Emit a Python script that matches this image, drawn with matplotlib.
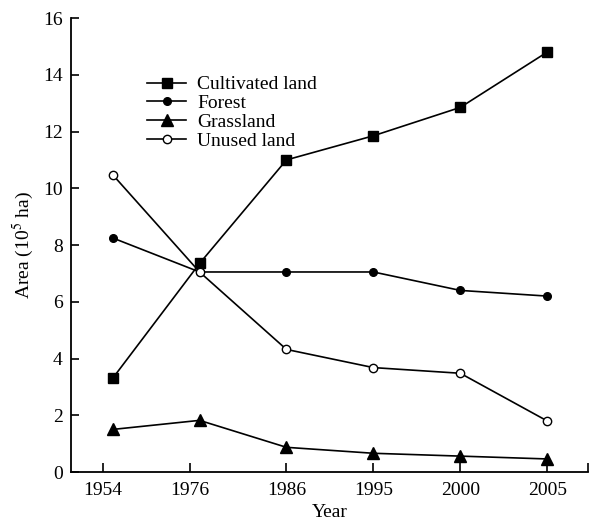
import matplotlib
matplotlib.use("Agg")
import matplotlib.pyplot as plt
import numpy as np

years = ["1954", "1976", "1986", "1995", "2000", "2005"]
cultivated = [3.3, 7.35, 11.0, 11.85, 12.85, 14.8]
forest = [8.25, 7.05, 7.05, 7.05, 6.4, 6.2]
grassland = [1.5, 1.82, 0.87, 0.66, 0.56, 0.46]
unused = [10.48, 7.05, 4.32, 3.68, 3.48, 1.8]
# tick positions (first two ticks sit slightly left of their points in the original)
tick_pos = [-0.11, 0.89, 2, 3, 4, 5]

plt.rcParams['font.family'] = ['Liberation Serif', 'DejaVu Serif']
plt.rcParams['mathtext.fontset'] = 'stix'

fig = plt.figure(figsize=(5.91, 5.2), dpi=100)
ax = fig.add_axes([0.120, 0.0923, 0.875, 0.873])

x = np.arange(len(years))
lw = 1.2
ax.plot(x, cultivated, '-', color='black', lw=lw, marker='s', ms=6.5, mfc='black', label='Cultivated land')
ax.plot(x, forest, '-', color='black', lw=lw, marker='o', ms=5.5, mfc='black', label='Forest')
ax.plot(x, grassland, '-', color='black', lw=lw, marker='^', ms=8, mfc='black', label='Grassland')
ax.plot(x, unused, '-', color='black', lw=lw, marker='o', ms=6, mfc='white', mew=1.0, label='Unused land')

ax.set_xlim(-0.48, 5.47)
ax.set_ylim(0, 16)
ax.set_xticks(tick_pos + [5.47])
ax.set_xticklabels(years + [""])
ax.set_yticks(range(0, 17, 2))

for s in ['top', 'right']:
    ax.spines[s].set_visible(False)
for s in ['left', 'bottom']:
    ax.spines[s].set_linewidth(1.3)

ax.tick_params(axis='x', direction='in', length=6.5, width=1.2, labelsize=14, pad=7)
ax.tick_params(axis='y', direction='in', length=6, width=1.2, labelsize=14, pad=6)

ax.set_xlabel('Year', fontsize=14, labelpad=4)
ax.set_ylabel('Area (10$^{5}$ ha)', fontsize=14, labelpad=5)

leg = ax.legend(loc='upper left', bbox_to_anchor=(0.133, 0.89), frameon=False,
                fontsize=14, handlelength=2.0, handletextpad=0.57,
                labelspacing=0.06, borderaxespad=0)

fig.savefig('out.png', dpi=100)
